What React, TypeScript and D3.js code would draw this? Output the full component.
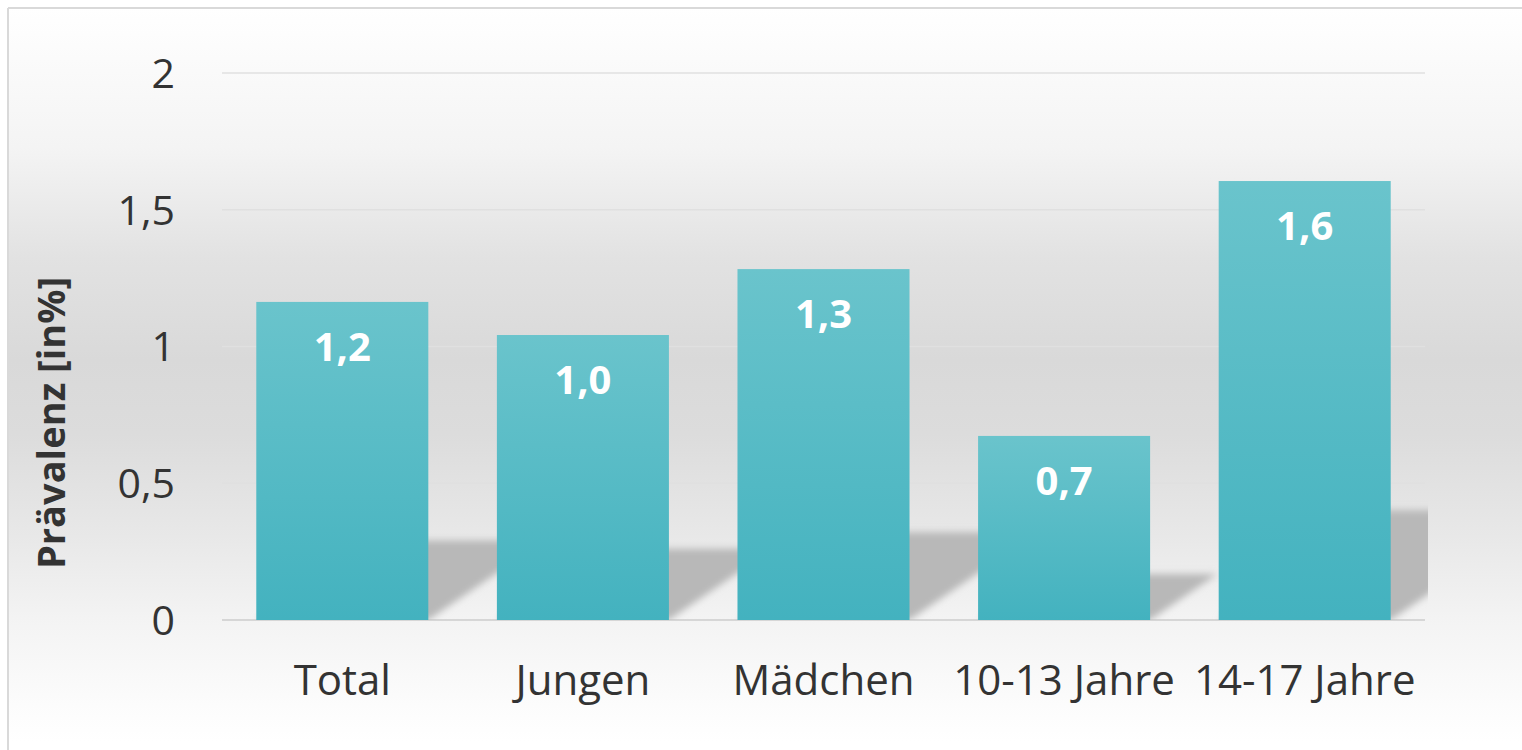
import { useRef, useEffect } from 'react';
import * as d3 from 'd3';

const categories = ['Total', 'Jungen', 'Mädchen', '10-13 Jahre', '14-17 Jahre'];
const values = [1.163, 1.042, 1.283, 0.673, 1.605];
const yTicks = [0, 0.5, 1, 1.5, 2];

const W = 1522;
const H = 750;
const margin = { top: 73, right: 97, bottom: 130, left: 222 };
const font = "'Open Sans', 'Noto Sans', sans-serif";
const fmt = (v: number) => v.toFixed(1).replace('.', ',');
const fmtTick = (v: number) => String(v).replace('.', ',');

export default function App() {
  const svgRef = useRef<SVGSVGElement>(null);

  useEffect(() => {
    if (!svgRef.current) return;
    const svg = d3.select(svgRef.current);
    svg.selectAll('*').remove();

    const innerW = W - margin.left - margin.right;
    const innerH = H - margin.top - margin.bottom;

    const x = d3
      .scaleBand()
      .domain(categories)
      .range([0, innerW])
      .paddingInner(0.285)
      .paddingOuter(0.1425);
    const y = d3.scaleLinear().domain([0, 2]).range([innerH, 0]);

    const defs = svg.append('defs');

    // background gradient
    const bg = defs.append('linearGradient').attr('id', 'bg').attr('x1', 0).attr('y1', 0).attr('x2', 0).attr('y2', 1);
    [
      [0, '#ffffff'],
      [0.19, '#f4f4f4'],
      [0.34, '#e2e2e2'],
      [0.48, '#d9d9d9'],
      [0.58, '#dcdcdc'],
      [0.72, '#e8e8e8'],
      [0.83, '#f3f3f3'],
      [0.95, '#fcfcfc'],
      [1, '#ffffff'],
    ].forEach(([o, c]) => bg.append('stop').attr('offset', o as number).attr('stop-color', c as string));

    const barGrad = defs.append('linearGradient').attr('id', 'bar').attr('x1', 0).attr('y1', 0).attr('x2', 0).attr('y2', 1);
    barGrad.append('stop').attr('offset', 0).attr('stop-color', '#6ac4cc');
    barGrad.append('stop').attr('offset', 1).attr('stop-color', '#43b2bf');

    defs.append('filter').attr('id', 'blur').attr('x', '-20%').attr('y', '-20%').attr('width', '140%').attr('height', '140%')
      .append('feGaussianBlur').attr('stdDeviation', 3.5);

    defs.append('clipPath').attr('id', 'plotClip')
      .append('rect').attr('x', 0).attr('y', -10).attr('width', innerW + 3).attr('height', innerH + 10);

    svg.append('rect').attr('x', 8).attr('y', 8).attr('width', W).attr('height', H - 8 - 8).attr('fill', 'url(#bg)');
    svg.append('line').attr('x1', 8).attr('x2', W).attr('y1', 8).attr('y2', 8).attr('stroke', '#d9d9d9').attr('stroke-width', 2);
    svg.append('line').attr('x1', 8).attr('x2', 8).attr('y1', 8).attr('y2', H).attr('stroke', '#d9d9d9').attr('stroke-width', 2);

    const g = svg.append('g').attr('transform', `translate(${margin.left},${margin.top})`);

    // grid lines
    g.selectAll('.grid')
      .data(yTicks)
      .join('line')
      .attr('x1', 0)
      .attr('x2', innerW)
      .attr('y1', (d) => y(d))
      .attr('y2', (d) => y(d))
      .attr('stroke', (d) => (d === 0 ? '#d6d6d6' : '#e0e0e0'))
      .attr('stroke-width', (d) => (d === 0 ? 2 : 1.5));

    // tick labels
    g.selectAll('.tick')
      .data(yTicks)
      .join('text')
      .attr('x', -47)
      .attr('y', (d) => y(d))
      .attr('dy', '0.36em')
      .attr('text-anchor', 'end')
      .attr('font-family', font)
      .attr('font-size', 41)
      .attr('fill', '#333333')
      .text((d) => fmtTick(d));

    // shadows (skewed copies of the bars)
    const shadowG = g.append('g').attr('clip-path', 'url(#plotClip)');
    const skew = 1.46;
    shadowG.selectAll('.shadow')
      .data(values)
      .join('path')
      .attr('d', (d, i) => {
        const x0 = x(categories[i]) || 0;
        const x1 = x0 + x.bandwidth();
        const h = (innerH - y(d)) * 0.25;
        const dx = h * skew;
        return `M${x0},${innerH}L${x1},${innerH}L${x1 + dx},${innerH - h}L${x0 + dx},${innerH - h}Z`;
      })
      .attr('fill', '#b8b8b8')
      .attr('filter', 'url(#blur)');

    // bars
    g.selectAll('.bar')
      .data(values)
      .join('rect')
      .attr('x', (_d, i) => x(categories[i]) || 0)
      .attr('y', (d) => y(d))
      .attr('width', x.bandwidth())
      .attr('height', (d) => innerH - y(d))
      .attr('fill', 'url(#bar)');

    // value labels
    g.selectAll('.val')
      .data(values)
      .join('text')
      .attr('x', (_d, i) => (x(categories[i]) || 0) + x.bandwidth() / 2)
      .attr('y', (d) => y(d) + 59)
      .attr('text-anchor', 'middle')
      .attr('font-family', font)
      .attr('font-weight', 700)
      .attr('font-size', 40)
      .attr('fill', '#ffffff')
      .text((d) => fmt(d));

    // category labels
    g.selectAll('.cat')
      .data(categories)
      .join('text')
      .attr('x', (d) => (x(d) || 0) + x.bandwidth() / 2)
      .attr('y', innerH + 75)
      .attr('text-anchor', 'middle')
      .attr('font-family', font)
      .attr('font-size', 42)
      .attr('fill', '#333333')
      .text((d) => d);

    // y title
    svg.append('text')
      .attr('transform', `translate(65,423) rotate(-90)`)
      .attr('text-anchor', 'middle')
      .attr('font-family', font)
      .attr('font-weight', 700)
      .attr('font-size', 38)
      .attr('fill', '#333333')
      .text('Prävalenz [in%]');
  }, []);

  return (
    <svg
      ref={svgRef}
      width={W}
      height={H}
      style={{ position: 'absolute', left: 0, top: 0, background: '#ffffff' }}
    />
  );
}
